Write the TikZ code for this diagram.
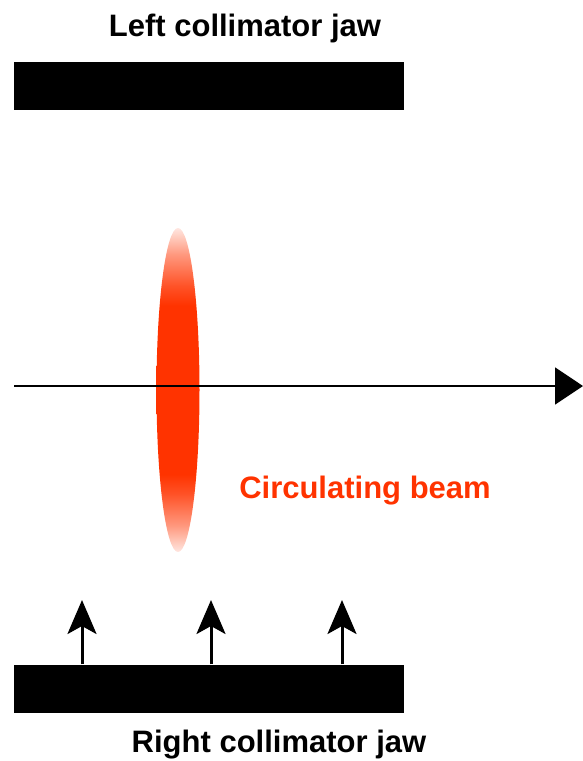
\documentclass[tikz,border=0pt]{standalone}
\usepackage{fontspec}
\setmainfont{Liberation Sans}
\usepackage{tikz}
\usetikzlibrary{arrows.meta, positioning, shapes.geometric, calc}
\usepackage{xcolor}
\definecolor{bred}{HTML}{FF3300}
\pgfdeclareverticalshading{beamfade}{100bp}{
  color(0bp)=(white); color(25bp)=(bred!12); color(29bp)=(bred!50);
  color(34bp)=(bred!85); color(37bp)=(bred); color(63bp)=(bred);
  color(66bp)=(bred!85); color(71bp)=(bred!50); color(75bp)=(bred!12);
  color(100bp)=(white)}
\tikzset{
  jawbox/.style={fill=black, draw=none, minimum width=390pt,
                 minimum height=48pt, inner sep=0pt},
  lbl/.style={font=\fontsize{31}{37}\selectfont\bfseries, inner sep=0pt},
  beamblob/.style={ellipse, shading=beamfade, draw=none, inner sep=0pt,
                   minimum width=43pt, minimum height=324pt},
  axarr/.style={-{Triangle[length=28pt, width=37pt]}, line width=2pt},
  movarr/.style={-{Stealth[length=34pt, width=29pt, inset=8pt]}, line width=3pt},
}
\begin{document}
\begin{tikzpicture}[x=1pt, y=-1pt]
  \useasboundingbox (0,0) rectangle (583,761);
  % jaws
  \node[jawbox] (ljaw) at (209, 86) {};
  \node[jawbox] (rjaw) at (209, 688.5) {};
  \node[lbl, anchor=base] (ltxt) at (245, 36) {Left collimator jaw};
  \node[lbl, anchor=base] (rtxt) at (279, 752) {Right collimator jaw};
  % beam
  \node[beamblob] (beam) at (178, 390) {};
  \coordinate (axs) at (14, 386);
  \coordinate (axe) at (583, 386);
  \draw[axarr] (axs) -- (axe);
  \node[lbl, anchor=base, text=bred] (btxt) at (365, 498) {Circulating beam};
  % jaw movement
  \foreach \i/\xx in {1/82, 2/211, 3/342} {
    \coordinate (tip\i) at (\xx, 600);
    \draw[movarr] (rjaw.north -| tip\i) -- (tip\i);
  }
\end{tikzpicture}
\end{document}
